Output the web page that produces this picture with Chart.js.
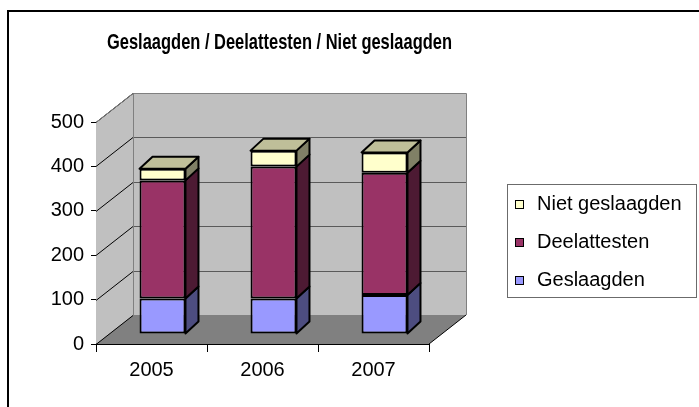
<!DOCTYPE html>
<html>
<head>
<meta charset="utf-8">
<script src="https://cdn.jsdelivr.net/npm/chart.js@4/dist/chart.umd.min.js"></script>
<style>
  html, body { margin: 0; padding: 0; background: #fff; }
</style>
</head>
<body>
<canvas id="grafico" width="699" height="407"></canvas>
<script>
// data
const jaren = ['2005', '2006', '2007'];
const geslaagden = [80, 80, 88];
const deelattesten = [266, 297, 275];
const nietGeslaagden = [26, 36, 46];
const yTicks = [0, 100, 200, 300, 400, 500];

// 3D look
const diepte = { x: 37, y: -29 };       // front -> back wall
const balkPlek = { x: 11, y: -10 };     // front -> bar plane
const balkDiepte = { x: 13, y: -12 };   // thickness of bars

function vlak(ctx, pts, fill, stroke, lw) {
    ctx.beginPath();
    ctx.moveTo(pts[0][0], pts[0][1]);
    for (let i = 1; i < pts.length; i++) ctx.lineTo(pts[i][0], pts[i][1]);
    ctx.closePath();
    if (fill) { ctx.fillStyle = fill; ctx.fill(); }
    if (stroke) { ctx.strokeStyle = stroke; ctx.lineWidth = lw || 1; ctx.stroke(); }
}

function lijn(ctx, x1, y1, x2, y2, kleur) {
    ctx.beginPath();
    ctx.moveTo(x1, y1);
    ctx.lineTo(x2, y2);
    ctx.strokeStyle = kleur;
    ctx.lineWidth = 1;
    ctx.stroke();
}

const driedee = {
    id: 'driedee',
    afterLayout(chart) {
        // titel staat in het origineel iets rechts van het midden en is breder
        if (chart.titleBlock) {
            chart.titleBlock.left += 11;
            chart.titleBlock.right += 23;
            chart.titleBlock.width = chart.titleBlock.right - chart.titleBlock.left;
        }
    },
    beforeDraw(chart) {
        const ctx = chart.ctx;
        ctx.save();
        ctx.fillStyle = '#fff';
        ctx.fillRect(0, 0, chart.width, chart.height);
        ctx.fillStyle = '#000';
        ctx.fillRect(7, 10, chart.width, 2);
        ctx.fillRect(7, 10, 2, chart.height);
        ctx.restore();
    },
    beforeDatasetsDraw(chart) {
        const ctx = chart.ctx;
        const a = chart.chartArea;
        const y = chart.scales.y;
        const dx = diepte.x, dy = diepte.y;
        ctx.save();
        // achterwand + zijwand
        vlak(ctx, [[a.left + dx, a.top + dy], [a.right + dx, a.top + dy], [a.right + dx, a.bottom + dy], [a.left + dx, a.bottom + dy]], '#c0c0c0');
        vlak(ctx, [[a.left, a.top], [a.left + dx, a.top + dy], [a.left + dx, a.bottom + dy], [a.left, a.bottom]], '#c0c0c0');
        // vloer
        vlak(ctx, [[a.left, a.bottom], [a.right, a.bottom], [a.right + dx, a.bottom + dy], [a.left + dx, a.bottom + dy]], '#808080');
        // rasterlijnen
        yTicks.forEach(v => {
            const py = Math.round(y.getPixelForValue(v)) + 0.5;
            if (v > 0) lijn(ctx, a.left + dx, py + dy, a.right + dx, py + dy, '#5a5a5a');
            lijn(ctx, a.left, py, a.left + dx, py + dy, '#000');
        });
        // randen wanden
        const t = Math.round(a.top) + 0.5;
        lijn(ctx, a.left + dx + 0.5, t + dy, a.right + dx + 0.5, t + dy, '#808080');
        lijn(ctx, a.right + dx + 0.5, t + dy, a.right + dx + 0.5, a.bottom + dy, '#808080');
        lijn(ctx, a.left + dx + 0.5, t + dy, a.left + dx + 0.5, a.bottom + dy, '#808080');
        lijn(ctx, a.left, t, a.left + dx, t + dy, '#808080');
        lijn(ctx, a.right, a.bottom, a.right + dx, a.bottom + dy, '#000');
        ctx.restore();
        // balken iets naar achteren
        ctx.save();
        ctx.translate(balkPlek.x, balkPlek.y);
    },
    afterDatasetsDraw(chart) {
        const ctx = chart.ctx;
        const n = chart.data.datasets.length;
        const bx = balkDiepte.x, by = balkDiepte.y;
        ctx.lineJoin = 'round';
        chart.data.datasets.forEach((ds, i) => {
            chart.getDatasetMeta(i).data.forEach(bar => {
                const p = bar.getProps(['x', 'y', 'base', 'width'], true);
                const l = p.x - p.width / 2, r = p.x + p.width / 2;
                const top = Math.min(p.y, p.base), bot = Math.max(p.y, p.base);
                vlak(ctx, [[r, bot], [r + bx, bot + by], [r + bx, top + by], [r, top]], ds.zijKleur, '#000', 2);
                if (i === n - 1) {
                    vlak(ctx, [[l, top], [r, top], [r + bx, top + by], [l + bx, top + by]], ds.dakKleur, '#000', 2);
                }
            });
        });
        ctx.restore();
    },
    afterDraw(chart) {
        // legenda
        const ctx = chart.ctx;
        ctx.save();
        ctx.strokeStyle = '#6b6b6b';
        ctx.lineWidth = 1;
        ctx.strokeRect(507.5, 184.5, 189, 113);
        ctx.font = '20px "Liberation Sans", Arial, sans-serif';
        ctx.textBaseline = 'middle';
        ctx.textAlign = 'left';
        const sets = chart.data.datasets.slice().reverse();
        sets.forEach((ds, i) => {
            const cy = 204 + i * 38;
            ctx.fillStyle = ds.backgroundColor;
            ctx.fillRect(515, cy - 4, 9, 9);
            ctx.strokeStyle = '#000';
            ctx.strokeRect(515.5, cy - 3.5, 8, 8);
            ctx.fillStyle = '#000';
            ctx.fillText(ds.label, 537, cy);
        });
        ctx.restore();
    }
};

Chart.defaults.font.family = '"Liberation Sans", Arial, sans-serif';
Chart.defaults.color = '#000';

const grafico = document.getElementById('grafico');
new Chart(grafico, {
    type: 'bar',
    data: {
        labels: jaren,
        datasets: [{
            label: 'Geslaagden',
            data: geslaagden,
            backgroundColor: '#9999ff',
            zijKleur: '#4d4d80'
        }, {
            label: 'Deelattesten',
            data: deelattesten,
            backgroundColor: '#993366',
            zijKleur: '#4d1a33'
        }, {
            label: 'Niet geslaagden',
            data: nietGeslaagden,
            backgroundColor: '#ffffcc',
            zijKleur: '#808066',
            dakKleur: '#bfbf99'
        }]
    },
    options: {
        responsive: false,
        devicePixelRatio: 1,
        animation: false,
        layout: { padding: { left: 0, right: 270, top: 0, bottom: 0 } },
        datasets: {
            bar: {
                borderColor: '#000',
                borderWidth: 2,
                borderSkipped: false,
                categoryPercentage: 1,
                barPercentage: 0.414,
                clip: false
            }
        },
        plugins: {
            legend: { display: false },
            tooltip: { enabled: false },
            title: {
                display: true,
                text: 'Geslaagden / Deelattesten / Niet geslaagden',
                fullSize: false,
                color: '#000',
                font: { family: '"Liberation Sans Narrow", "Liberation Sans", Arial, sans-serif', size: 22, weight: 'bold', lineHeight: 1.2 },
                padding: { top: 30, bottom: 65.6 }
            }
        },
        scales: {
            x: {
                stacked: true,
                afterFit: s => { s.height = 63; },
                grid: { offset: true, drawOnChartArea: false, tickLength: 8, color: '#000' },
                border: { display: true, color: '#000' },
                ticks: { font: { size: 20 }, padding: 6 }
            },
            y: {
                stacked: true,
                min: 0,
                max: 500,
                afterFit: s => { s.width = 96; },
                afterBuildTicks: s => { s.ticks = yTicks.map(v => ({ value: v })); },
                grid: { drawOnChartArea: false, tickLength: 5, color: '#000' },
                border: { display: true, color: '#000' },
                ticks: { font: { size: 20 }, padding: 7 }
            }
        }
    },
    plugins: [driedee]
});
</script>
</body>
</html>
